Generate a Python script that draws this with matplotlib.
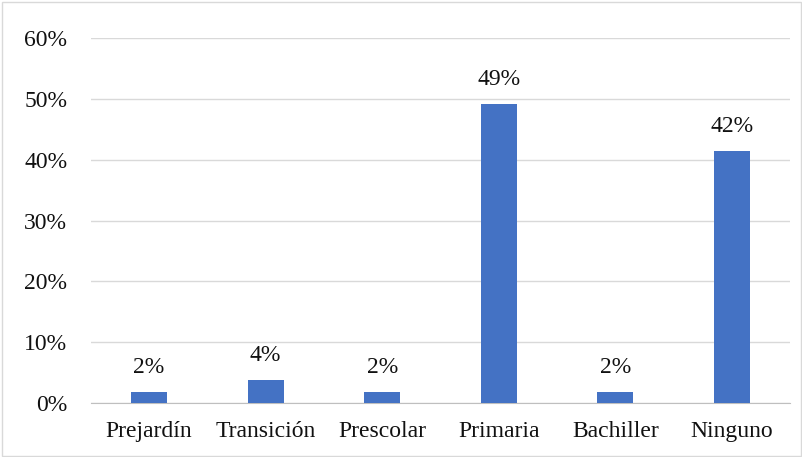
import matplotlib.pyplot as plt
import numpy as np

categorias = ['Prejardín', 'Transición', 'Prescolar', 'Primaria', 'Bachiller', 'Ninguno']
valores = [1.9, 3.8, 1.9, 49.1, 1.9, 41.5]
etiquetas = ['2%', '4%', '2%', '49%', '2%', '42%']
yticks = [0, 10, 20, 30, 40, 50, 60]

plt.rcParams['font.family'] = ['Liberation Serif', 'DejaVu Serif']

fig = plt.figure(figsize=(8.03, 4.57), dpi=100)
ax = fig.add_axes([0.113, 0.118, 0.871, 0.799])

x = np.arange(len(categorias))
ax.bar(x, valores, width=0.31, color='#4472C4', zorder=3)
for xi, v, t in zip(x, valores, etiquetas):
    ax.text(xi, v + 2.3, t, ha='center', va='bottom', fontsize=17, color='#111111')

ax.set_xlim(-0.5, len(categorias) - 0.5)
ax.set_ylim(0, 60)
ax.set_yticks(yticks)
ax.set_yticklabels([f'{t}%' for t in yticks], fontsize=17, color='#111111')
ax.set_xticks(x)
ax.set_xticklabels(categorias, fontsize=17, color='#111111')
ax.tick_params(length=0)
ax.tick_params(axis='y', pad=17)
ax.tick_params(axis='x', pad=13)
ax.grid(axis='y', color='#D9D9D9', linewidth=1, zorder=0)
for s in ['top', 'right', 'left']:
    ax.spines[s].set_visible(False)
ax.spines['bottom'].set_color('#BFBFBF')

fig.patches.append(plt.Rectangle((0.002, 0.003), 0.995, 0.993, transform=fig.transFigure,
                                 fill=False, edgecolor='#D9D9D9', linewidth=1))

fig.savefig('out.png', dpi=100)
